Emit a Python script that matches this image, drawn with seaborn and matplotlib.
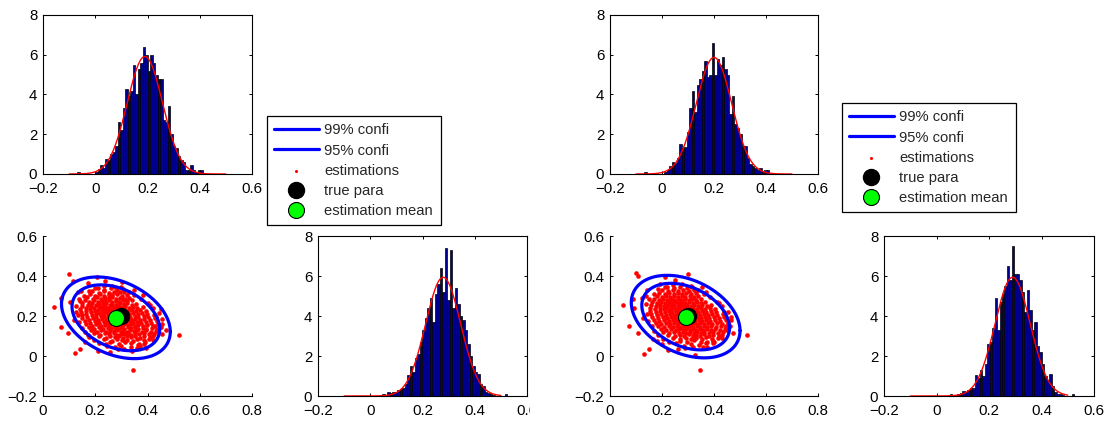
import numpy as np
import pandas as pd
import matplotlib
matplotlib.use("Agg")
import matplotlib.pyplot as plt
import seaborn as sns
from matplotlib.transforms import Bbox, TransformedBbox

# ------------------------------------------------------------------ data
# histogram bars (density values)
left_top_start, left_top_width = -0.068, 0.0096
left_top_heights = [0.1, 0, 0, 0, 0, 0, 0, 0.1, 0.25, 0.45,
                    0.3, 0.75, 0.7, 1.0, 1.1, 1.4, 2.6, 2.2, 3.3, 4.3,
                    3.9, 4.2, 5.5, 4.0, 5.3, 5.6, 6.4, 6.0, 5.2, 6.0,
                    5.6, 5.0, 4.8, 4.8, 2.7, 2.6, 3.4, 2.0, 1.4, 1.3,
                    0.9, 0.7, 0.6, 0.2, 0.2, 0.45, 0.2, 0.1, 0.2, 0.2]
left_side_start, left_side_width = 0.045, 0.0096
left_side_heights = [0.1, 0, 0.2, 0.15, 0.2, 0.2, 0.3, 0.35, 0.4, 0.6,
                     1.05, 1.5, 1.2, 1.9, 2.1, 2.7, 3.3, 3.9, 4.4, 4.9,
                     3.7, 5.1, 5.6, 6.4, 5.2, 7.4, 4.8, 7.3, 4.4, 5.4,
                     4.6, 4.0, 3.8, 3.3, 2.6, 2.0, 1.5, 1.2, 1.1, 0.6,
                     0.5, 0.2, 0.15, 0.1, 0.05, 0, 0, 0, 0, 0.1]
right_top_start, right_top_width = -0.068, 0.0096
right_top_heights = [0.1, 0, 0, 0, 0, 0, 0, 0, 0.1, 0.2,
                     0.4, 0.6, 0.55, 0.8, 1.5, 1.3, 1.35, 2.1, 3.3, 4.2,
                     3.1, 4.5, 4.8, 5.2, 5.7, 4.9, 5.0, 6.6, 5.0, 5.8,
                     5.5, 5.9, 5.3, 5.0, 3.0, 3.9, 2.5, 2.3, 2.0, 1.4,
                     1.4, 0.8, 0.5, 0.4, 0.3, 0.2, 0.3, 0.1, 0.2, 0.2]
right_side_start, right_side_width = 0.05, 0.0095
right_side_heights = [0.1, 0, 0, 0.1, 0.15, 0.25, 0.2, 0.3, 0.4, 0.4,
                      1.05, 0.9, 1.3, 1.0, 1.6, 2.6, 2.7, 3.4, 4.9, 3.3,
                      4.7, 5.1, 5.5, 6.5, 5.8, 7.5, 6.1, 6.1, 5.8, 5.2,
                      4.2, 5.3, 4.3, 3.3, 3.7, 2.5, 2.2, 1.6, 1.0, 0.8,
                      1.1, 0.5, 0.2, 0.1, 0.1, 0.05, 0, 0, 0, 0.1]

# fitted normal curves (mean, sd) and the range they are drawn on
left_top_fit = (0.190, 0.0675)
left_side_fit = (0.279, 0.0672)
right_top_fit = (0.200, 0.0680)
right_side_fit = (0.290, 0.0672)
fit_range = (-0.1, 0.5)

# scatter summary values
true_para = (0.30, 0.20)
left_est_mean = (0.279, 0.191)
right_est_mean = (0.291, 0.197)
# (sd_x, sd_y, correlation) of the confidence ellipses
left_ellipse_sd = (0.0686, 0.0673, -0.34)
right_ellipse_sd = (0.0689, 0.0680, -0.34)
conf_labels = ["99% confi", "95% confi"]
conf_chi2 = [9.210, 5.991]

hist_xticks = [-0.2, 0, 0.2, 0.4, 0.6]
hist_xticklabels = ["\u22120.2", "0", "0.2", "0.4", "0.6"]
hist_yticks = [0, 2, 4, 6, 8]
sc_xticks = [0, 0.2, 0.4, 0.6, 0.8]
sc_xticklabels = ["0", "0.2", "0.4", "0.6", "0.8"]
sc_yticks = [-0.2, 0, 0.2, 0.4, 0.6]
sc_yticklabels = ["\u22120.2", "0", "0.2", "0.4", "0.6"]

left_points = [
    (.300,.052),(.335,.046),(.362,.056),
    (.258,.069),(.291,.061),(.313,.071),(.337,.065),(.366,.060),(.392,.070),
    (.233,.084),(.263,.076),(.285,.086),(.302,.079),(.323,.082),(.343,.075),(.359,.087),(.386,.078),(.404,.085),
    (.214,.098),(.241,.091),(.257,.100),(.277,.094),(.291,.101),(.308,.090),(.320,.099),(.338,.093),(.353,.101),(.370,.092),(.387,.099),(.411,.095),
    (.196,.113),(.217,.106),(.239,.114),(.253,.109),(.271,.115),(.283,.106),(.299,.112),(.310,.109),(.326,.115),(.338,.106),(.354,.113),(.367,.109),(.387,.115),(.404,.108),(.426,.112),
    (.184,.128),(.206,.121),(.223,.129),(.243,.122),(.256,.126),(.272,.124),(.283,.130),(.298,.121),(.308,.127),(.323,.120),(.334,.128),(.349,.124),(.361,.130),(.378,.121),(.393,.128),(.413,.120),(.431,.127),
    (.176,.143),(.195,.136),(.216,.144),(.231,.137),(.249,.141),(.261,.139),(.276,.145),(.286,.136),(.300,.142),(.310,.137),(.324,.143),(.335,.139),(.351,.145),(.363,.136),(.381,.141),(.396,.137),(.416,.142),(.436,.137),
    (.164,.158),(.187,.151),(.204,.159),(.223,.152),(.237,.156),(.253,.154),(.264,.160),(.278,.151),(.288,.157),(.301,.152),(.311,.158),(.325,.154),(.336,.160),(.352,.151),(.365,.156),(.383,.152),(.399,.157),(.421,.152),(.441,.159),
    (.159,.173),(.179,.166),(.200,.174),(.215,.167),(.233,.171),(.245,.169),(.260,.175),(.270,.166),(.284,.172),(.293,.167),(.307,.173),(.317,.169),(.332,.175),(.344,.166),(.361,.171),(.375,.167),(.395,.172),(.412,.167),(.436,.174),
    (.151,.188),(.175,.181),(.192,.189),(.211,.182),(.225,.186),(.241,.184),(.252,.190),(.266,.181),(.276,.187),(.290,.182),(.300,.188),(.314,.184),(.325,.190),(.341,.181),(.354,.186),(.372,.182),(.388,.187),(.409,.182),(.429,.189),
    (.149,.203),(.168,.196),(.189,.204),(.204,.197),(.222,.201),(.234,.199),(.249,.205),(.259,.196),(.273,.202),(.283,.197),(.297,.203),(.307,.199),(.322,.205),(.334,.196),(.351,.201),(.365,.197),(.385,.202),(.402,.197),(.425,.204),
    (.144,.218),(.166,.211),(.183,.219),(.201,.212),(.214,.216),(.230,.214),(.241,.220),(.255,.211),(.265,.217),(.279,.212),(.289,.218),(.304,.214),(.315,.220),(.331,.211),(.344,.216),(.362,.212),(.378,.217),(.399,.212),
    (.142,.233),(.164,.226),(.180,.234),(.198,.227),(.210,.231),(.225,.229),(.236,.235),(.250,.226),(.260,.232),(.274,.227),(.284,.233),(.299,.229),(.310,.235),(.326,.226),(.339,.231),(.357,.227),(.373,.232),(.393,.227),
    (.148,.248),(.165,.241),(.184,.249),(.197,.242),(.213,.246),(.224,.244),(.239,.250),(.249,.241),(.263,.247),(.273,.242),(.288,.248),(.299,.244),(.315,.250),(.328,.241),(.346,.246),(.361,.242),(.381,.247),
    (.151,.263),(.171,.256),(.186,.264),(.203,.257),(.215,.261),(.230,.259),(.241,.265),(.255,.256),(.266,.262),(.281,.257),(.293,.263),(.309,.259),(.322,.265),(.340,.256),(.355,.261),
    (.161,.278),(.177,.271),(.196,.279),(.209,.272),(.225,.276),(.237,.274),(.252,.280),(.263,.271),(.279,.277),(.291,.272),(.308,.278),(.321,.274),(.341,.279),
    (.169,.293),(.190,.286),(.205,.294),(.223,.287),(.236,.291),(.252,.289),(.264,.295),(.281,.286),(.295,.292),(.314,.287),(.329,.292),
    (.181,.308),(.199,.301),(.219,.309),(.234,.302),(.252,.306),(.266,.304),(.285,.310),(.301,.301),(.321,.307),
    (.189,.323),(.213,.316),(.232,.324),(.254,.317),(.271,.321),(.294,.319),(.311,.322),
    (.211,.338),(.234,.331),(.261,.339),(.284,.332),(.306,.337),
    # ring of points near the 95% contour
    (.128,.250),(.133,.205),(.137,.170),(.150,.140),(.160,.120),(.175,.095),(.195,.080),(.215,.065),
    (.240,.058),(.275,.045),(.310,.036),(.360,.040),(.385,.058),(.420,.100),(.440,.120),(.452,.145),
    (.455,.185),(.445,.215),(.420,.240),(.400,.265),(.375,.285),(.350,.305),(.330,.320),(.300,.345),
    (.265,.352),(.235,.350),(.200,.340),(.175,.325),(.158,.300),(.140,.275),
    # sparse points outside the core
    (.042,.246),(.068,.288),(.070,.146),(.096,.113),(.099,.408),(.115,.376),(.122,.017),(.138,.283),
    (.143,.037),(.147,.326),(.173,.366),(.207,.393),(.239,.375),(.211,.024),(.256,.021),(.343,-.068),
    (.522,.104),(.457,.109),(.429,.149),(.339,.026),(.371,.049),(.288,.037),(.172,.104),(.125,.221),
    (.102,.271),(.303,.368),(.275,.346),(.382,.305),(.410,.254),(.433,.196),(.455,.160),(.118,.180),
    (.160,.072),(.245,.052),(.395,.040),(.420,.082),(.450,.235),(.135,.320),(.350,.330),(.470,.128),
]

right_points = [
    (.312,.061),(.344,.055),(.371,.063),
    (.268,.075),(.297,.070),(.323,.078),(.349,.071),(.374,.069),(.398,.076),
    (.244,.090),(.270,.086),(.293,.092),(.313,.085),(.332,.091),(.352,.087),(.371,.093),(.393,.086),(.416,.090),
    (.224,.106),(.249,.100),(.268,.107),(.286,.101),(.302,.108),(.318,.100),(.332,.106),(.347,.102),(.362,.108),(.379,.101),(.398,.105),(.420,.100),
    (.205,.120),(.228,.115),(.247,.121),(.264,.116),(.280,.122),(.294,.115),(.308,.121),(.322,.116),(.335,.122),(.349,.115),(.363,.120),(.379,.116),(.396,.122),(.415,.117),(.436,.121),
    (.195,.135),(.215,.130),(.234,.136),(.252,.129),(.267,.135),(.281,.131),(.294,.137),(.307,.130),(.319,.136),(.332,.129),(.345,.135),(.358,.131),(.372,.137),(.387,.130),(.404,.135),(.422,.129),(.442,.134),
    (.185,.150),(.206,.145),(.225,.151),(.242,.144),(.258,.150),(.272,.146),(.285,.152),(.297,.145),(.309,.151),(.321,.144),(.333,.150),(.346,.146),(.360,.152),(.374,.145),(.390,.150),(.407,.144),(.425,.149),(.447,.146),
    (.175,.165),(.196,.160),(.215,.166),(.232,.159),(.248,.165),(.262,.161),(.275,.167),(.287,.160),(.299,.166),(.310,.159),(.322,.165),(.334,.161),(.347,.167),(.361,.160),(.376,.165),(.392,.159),(.410,.164),(.430,.161),(.452,.166),
    (.168,.180),(.190,.175),(.209,.181),(.226,.174),(.242,.180),(.256,.176),(.269,.182),(.281,.175),(.293,.181),(.304,.174),(.316,.180),(.328,.176),(.341,.182),(.355,.175),(.370,.180),(.386,.174),(.404,.179),(.423,.176),(.445,.181),
    (.162,.195),(.184,.190),(.203,.196),(.220,.189),(.236,.195),(.250,.191),(.263,.197),(.275,.190),(.287,.196),(.299,.189),(.311,.195),(.323,.191),(.336,.197),(.350,.190),(.365,.195),(.381,.189),(.399,.194),(.418,.191),(.440,.196),
    (.158,.210),(.179,.205),(.198,.211),(.215,.204),(.231,.210),(.245,.206),(.258,.212),(.270,.205),(.282,.211),(.294,.204),(.306,.210),(.318,.206),(.331,.212),(.345,.205),(.360,.210),(.376,.204),(.394,.209),(.413,.206),(.434,.211),
    (.155,.225),(.175,.220),(.194,.226),(.210,.219),(.225,.225),(.239,.221),(.252,.227),(.264,.220),(.276,.226),(.288,.219),(.300,.225),(.313,.221),(.326,.227),(.340,.220),(.355,.225),(.371,.219),(.389,.224),(.408,.221),
    (.153,.240),(.173,.235),(.191,.241),(.207,.234),(.221,.240),(.234,.236),(.247,.242),(.259,.235),(.271,.241),(.283,.234),(.295,.240),(.308,.236),(.321,.242),(.335,.235),(.350,.240),(.366,.234),(.384,.239),(.402,.236),
    (.157,.255),(.176,.250),(.193,.256),(.208,.249),(.222,.255),(.235,.251),(.248,.257),(.260,.250),(.272,.256),(.284,.249),(.297,.255),(.310,.251),(.324,.257),(.339,.250),(.355,.255),(.372,.249),(.390,.254),
    (.162,.270),(.180,.265),(.197,.271),(.212,.264),(.226,.270),(.239,.266),(.252,.272),(.264,.265),(.277,.271),(.290,.264),(.304,.270),(.318,.266),(.333,.272),(.349,.265),(.366,.270),
    (.170,.285),(.188,.280),(.205,.286),(.220,.279),(.234,.285),(.248,.281),(.261,.287),(.274,.280),(.288,.286),(.302,.279),(.317,.285),(.332,.281),(.350,.286),
    (.180,.300),(.199,.295),(.216,.301),(.232,.294),(.247,.300),(.261,.296),(.275,.302),(.290,.295),(.306,.301),(.323,.294),(.340,.299),
    (.190,.315),(.210,.310),(.228,.316),(.245,.309),(.261,.315),(.277,.311),(.294,.317),(.312,.310),(.330,.314),
    (.200,.330),(.222,.325),(.243,.331),(.263,.324),(.282,.330),(.303,.326),(.322,.329),
    (.220,.345),(.245,.340),(.270,.346),(.295,.341),(.315,.344),
    # ring of points near the 95% contour
    (.138,.258),(.141,.212),(.148,.176),(.160,.148),(.171,.126),(.186,.103),(.205,.087),(.226,.072),
    (.252,.066),(.284,.052),(.321,.043),(.372,.047),(.396,.066),(.431,.107),(.451,.128),(.463,.152),
    (.466,.193),(.455,.222),(.431,.248),(.411,.272),(.386,.293),(.361,.312),(.340,.328),(.311,.352),
    (.276,.360),(.244,.357),(.211,.347),(.184,.333),(.168,.308),(.150,.283),
    # sparse points outside the core
    (.049,.254),(.074,.149),(.090,.284),(.092,.238),(.100,.413),(.109,.400),(.106,.116),(.122,.288),
    (.131,.012),(.151,.037),(.143,.330),(.179,.076),(.211,.396),(.192,.358),(.301,.408),(.250,.380),
    (.327,.007),(.346,-.068),(.525,.104),(.474,.116),(.448,.149),(.438,.221),(.224,.029),(.262,.037),
    (.358,.046),(.400,.071),(.420,.263),(.371,.321),(.128,.190),(.165,.085),(.290,.040),(.465,.180),
    (.140,.300),(.355,.345),(.430,.090),(.200,.060),
]

# ------------------------------------------------------------------ style
sns.set_theme(style="white")
plt.rcParams["font.family"] = ["Liberation Sans", "DejaVu Sans"]
plt.rcParams["axes.unicode_minus"] = True

W, H = 1117, 422
fig = plt.figure(figsize=(W / 100, H / 100), dpi=100)
fig.patch.set_facecolor("white")


def add_axes_px(left, top, right, bottom):
    return fig.add_axes([left / W, 1 - bottom / H, (right - left) / W, (bottom - top) / H])


def style_axes(ax, box=True):
    for s in ax.spines.values():
        s.set_color("black")
        s.set_linewidth(0.8)
    if not box:
        ax.spines["top"].set_visible(False)
        ax.spines["right"].set_visible(False)
    ax.tick_params(direction="in", length=2.5, width=0.7, colors="black",
                   labelsize=10.8, top=box, right=box,
                   bottom=True, left=True)
    ax.tick_params(axis="x", pad=5.5)
    ax.tick_params(axis="y", pad=4.2)
    ax.set_facecolor("white")
    ax.set_xlabel("")
    ax.set_ylabel("")


def draw_hist(ax, start, width, heights, fit):
    n = len(heights)
    centers = start + width * (np.arange(n) + 0.5)
    df = pd.DataFrame({"x": centers, "w": heights})
    sns.histplot(data=df, x="x", weights="w", binwidth=width,
                 binrange=(start, start + n * width), stat="count", ax=ax,
                 color="#000090", edgecolor="black", linewidth=0.5, alpha=1.0)
    xs = np.linspace(fit_range[0], fit_range[1], 400)
    pdf = np.exp(-0.5 * ((xs - fit[0]) / fit[1]) ** 2) / (fit[1] * np.sqrt(2 * np.pi))
    sns.lineplot(x=xs, y=pdf, ax=ax, color="red", linewidth=1.0, estimator=None)
    ax.set_xlim(-0.2, 0.6)
    ax.set_ylim(0, 8)
    ax.set_xticks(hist_xticks)
    ax.set_xticklabels(hist_xticklabels)
    ax.set_yticks(hist_yticks)
    ax.set_yticklabels([str(v) for v in hist_yticks])
    style_axes(ax, box=True)


def draw_scatter(ax, points, est_mean, ell_sd):
    sx, sy, rho = ell_sd
    cov = np.array([[sx * sx, rho * sx * sy], [rho * sx * sy, sy * sy]])
    chol = np.linalg.cholesky(cov)
    t = np.linspace(0, 2 * np.pi, 300)
    for lab, c in zip(conf_labels, conf_chi2):
        e = chol @ (np.vstack([np.cos(t), np.sin(t)]) * np.sqrt(c))
        ax.plot(est_mean[0] + e[0], est_mean[1] + e[1], color="blue",
                linewidth=2.3, label=lab)
    df = pd.DataFrame(points, columns=["x", "y"])
    sns.scatterplot(data=df, x="x", y="y", ax=ax, color="red", s=11,
                    linewidth=0, label="estimations")
    ax.plot([true_para[0]], [true_para[1]], "o", ms=11.5, mfc="black",
            mec="black", label="true para")
    ax.plot([est_mean[0]], [est_mean[1]], "o", ms=11.5, mfc=(0, 1, 0),
            mec="black", mew=0.8, label="estimation mean")
    ax.set_xlim(0, 0.8)
    ax.set_ylim(-0.2, 0.6)
    ax.set_xticks(sc_xticks)
    ax.set_xticklabels(sc_xticklabels)
    ax.set_yticks(sc_yticks)
    ax.set_yticklabels(sc_yticklabels)
    style_axes(ax, box=False)


def draw_legend(ax, left_px, top_px):
    handles, labels = ax.get_legend_handles_labels()
    leg = ax.legend(handles, labels, loc="upper left",
                    bbox_to_anchor=(left_px / W, 1 - top_px / H),
                    bbox_transform=fig.transFigure, borderaxespad=0,
                    fontsize=10.6, frameon=True, fancybox=False,
                    edgecolor="black", framealpha=1, handlelength=3.0,
                    handletextpad=0.4, borderpad=0.5, labelspacing=0.42)
    leg.get_frame().set_linewidth(0.9)
    for h in leg.legend_handles:
        if hasattr(h, "set_sizes"):
            h.set_sizes([5])


# ------------------------------------------------------------------ panels
ax1 = add_axes_px(43, 15, 252, 174)
draw_hist(ax1, left_top_start, left_top_width, left_top_heights, left_top_fit)
ax2 = add_axes_px(43, 236, 252, 396)
draw_scatter(ax2, left_points, left_est_mean, left_ellipse_sd)
ax3 = add_axes_px(318, 236, 527, 396)
draw_hist(ax3, left_side_start, left_side_width, left_side_heights, left_side_fit)
draw_legend(ax2, 267, 116)

ax4 = add_axes_px(610, 15, 818, 174)
draw_hist(ax4, right_top_start, right_top_width, right_top_heights, right_top_fit)
ax5 = add_axes_px(610, 236, 818, 396)
draw_scatter(ax5, right_points, right_est_mean, right_ellipse_sd)
ax6 = add_axes_px(884, 236, 1094, 396)
draw_hist(ax6, right_side_start, right_side_width, right_side_heights, right_side_fit)
draw_legend(ax5, 842, 103)

# the left image is cut at its right edge: its last tick label reads "0."
clip = TransformedBbox(Bbox([[0, 0], [530 / W, 1]]), fig.transFigure)
for lbl in ax3.get_xticklabels():
    lbl.set_clip_box(clip)
    lbl.set_clip_on(True)

fig.savefig("out.png", dpi=100, facecolor="white")
